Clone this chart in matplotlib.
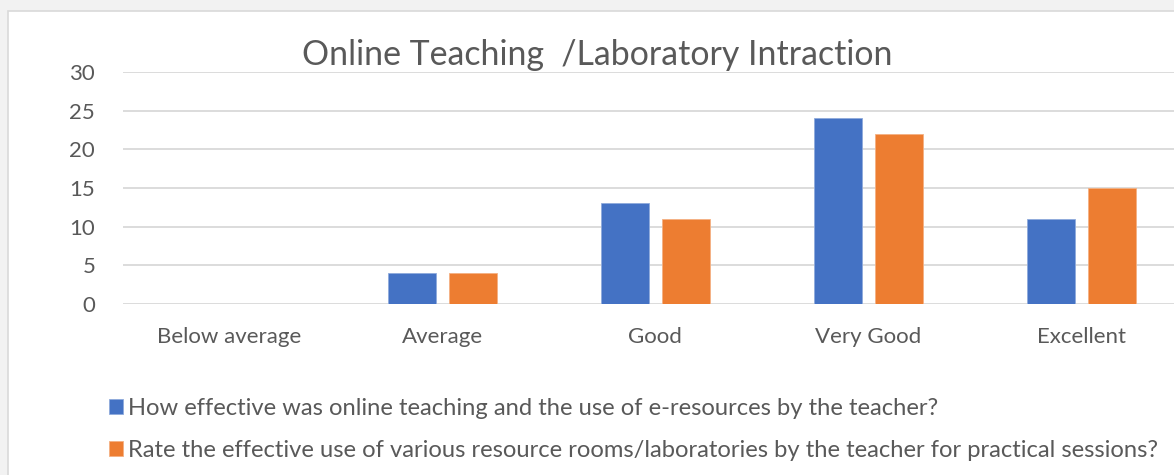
import numpy as np
import matplotlib
matplotlib.use("Agg")
import matplotlib.pyplot as plt
from matplotlib.patches import Rectangle

categories = ["Below average", "Average", "Good", "Very Good", "Excellent"]
online_teaching = [0, 4, 13, 24, 11]
lab_use = [0, 4, 11, 22, 15]
series_labels = [
    "How effective was online teaching and the use of e-resources by the teacher?",
    "Rate the effective use of various resource rooms/laboratories by the teacher for practical sessions?",
]
yticks = [0, 5, 10, 15, 20, 25, 30]

BLUE = "#4472c4"
ORANGE = "#ed7d31"
GRID = "#d9d9d9"
TXT = "#595959"

plt.rcParams["font.family"] = ["Lato", "DejaVu Sans"]

W, H = 1174, 475
fig = plt.figure(figsize=(W / 100, H / 100), dpi=100, facecolor="#f2f2f2")
fig.patches.append(Rectangle((8 / W, -0.01), 1.0, (H - 11) / H + 0.01,
                             transform=fig.transFigure, facecolor="white",
                             edgecolor=GRID, linewidth=1.2, zorder=-5))

ax = fig.add_axes([123 / W, 171 / H, 1 - 123 / W, 232 / H])
ax.set_facecolor("none")

x = np.arange(len(categories))
bw, off = 0.225, 0.143
b1 = ax.bar(x - off, online_teaching, bw, color=BLUE, edgecolor="#8faadc", linewidth=0.6, zorder=3)
b2 = ax.bar(x + off, lab_use, bw, color=ORANGE, edgecolor="#f4b183", linewidth=0.6, zorder=3)

ax.set_xlim(-0.5, 4.435)
ax.set_ylim(0, 30)
ax.set_yticks(yticks)
ax.set_xticks(x)
ax.set_xticklabels(categories)
ax.tick_params(length=0, labelsize=16, colors=TXT)
ax.tick_params(axis="y", pad=20)
ax.tick_params(axis="x", pad=16.5)
for s in ax.spines.values():
    s.set_visible(False)
ax.yaxis.grid(True, color=GRID, linewidth=1.3, zorder=0)
ax.set_axisbelow(True)

fig.text(597 / W, 1 - 55 / H, "Online Teaching  /Laboratory Intraction",
         ha="center", va="center", fontsize=24.4, color=TXT)

fig.legend([b1, b2], series_labels, loc="upper left",
           bbox_to_anchor=(97 / W, 1 - 386 / H), frameon=False,
           fontsize=17.1, labelcolor=TXT, handlelength=0.6, handleheight=0.6,
           handletextpad=0.22, labelspacing=0.88, borderpad=0)

fig.savefig("out.png", dpi=100, facecolor=fig.get_facecolor())
